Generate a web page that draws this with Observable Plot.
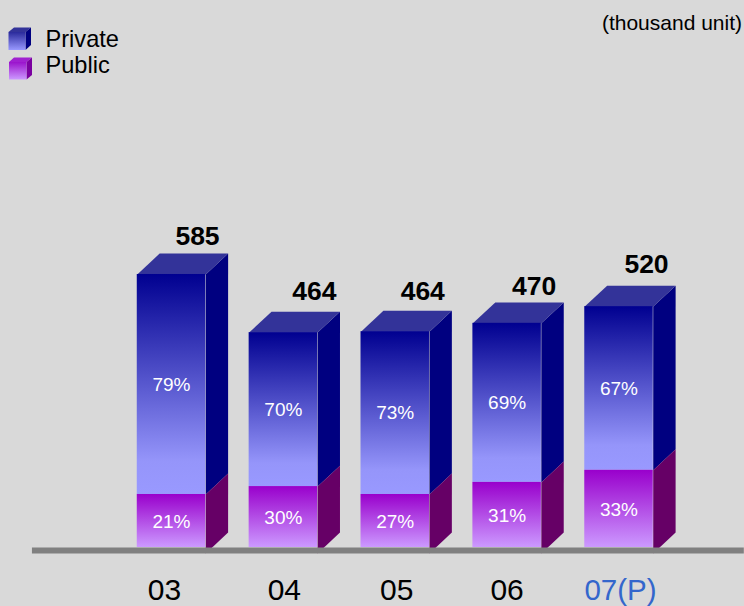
<!DOCTYPE html>
<html>
<head>
<meta charset="utf-8">
<script src="https://cdn.jsdelivr.net/npm/d3@7"></script>
<script src="https://cdn.jsdelivr.net/npm/@observablehq/plot@0.6"></script>
<style>
  html, body { margin: 0; padding: 0; background: #d9d9d9; }
  body { width: 744px; height: 606px; position: relative; overflow: hidden;
         font-family: "Liberation Sans", Arial, sans-serif; }
  #chart svg { display: block; background: transparent; }
  #unit { position: absolute; top: 11px; right: 2px; font-size: 21px; line-height: 24px; color: #000; white-space: nowrap; }
  .lg { position: absolute; left: 45.5px; font-size: 23.6px; line-height: 26px; color: #000; }
  #cubes { position: absolute; left: 0; top: 0; }
</style>
</head>
<body>
<div id="chart"></div>
<svg id="cubes" width="40" height="90">
  <defs>
    <linearGradient id="lgPriv" x1="0" y1="0" x2="0" y2="1">
      <stop offset="0" stop-color="#2a2a9c"/><stop offset="1" stop-color="#9999ff"/>
    </linearGradient>
    <linearGradient id="lgPub" x1="0" y1="0" x2="0" y2="1">
      <stop offset="0" stop-color="#9a12cc"/><stop offset="1" stop-color="#cc99ff"/>
    </linearGradient>
  </defs>
  <polygon points="8.5,32 14,27.5 31,27.5 25.5,32" fill="#333399"/>
  <polygon points="25.5,32 31,27.5 31,45 25.5,50" fill="#000080"/>
  <rect x="8.5" y="32" width="17" height="18" fill="url(#lgPriv)"/>
  <polygon points="9,62 14,57.5 32,57.5 26.5,62" fill="#a020d0"/>
  <polygon points="26.5,62 32,57.5 32,75 26.5,79.5" fill="#7a00a0"/>
  <rect x="9" y="62" width="17.5" height="17.5" fill="url(#lgPub)"/>
</svg>
<div class="lg" style="top:26px">Private</div>
<div class="lg" style="top:52px">Public</div>
<div id="unit">(thousand unit)</div>
<script>
const years = ["03", "04", "05", "06", "07(P)"];
const totalLabels = [585, 464, 464, 470, 520];
const barHeights = [587, 462, 464, 482, 518];
const publicHeights = [114, 131, 114, 140, 166];
const privateShare = ["79%", "70%", "73%", "69%", "67%"];
const publicShare = ["21%", "30%", "27%", "31%", "33%"];

const halfW = 0.306, depthX = 0.2, depthY = 45, baseDrop = -13;

const bars = years.map((year, i) => ({
  year, i,
  label: String(totalLabels[i]),
  top: barHeights[i],
  mid: publicHeights[i],
  privateShare: privateShare[i],
  publicShare: publicShare[i]
}));

const poly = (fn) => bars.flatMap((b) => fn(b).map(([x, y]) => ({x, y, z: b.year})));
const sidePrivate = poly((b) => [
  [b.i + halfW, b.top], [b.i + halfW + depthX, b.top + depthY],
  [b.i + halfW + depthX, b.mid + depthY], [b.i + halfW, b.mid]
]);
const sidePublic = poly((b) => [
  [b.i + halfW, b.mid], [b.i + halfW + depthX, b.mid + depthY],
  [b.i + halfW + depthX, baseDrop + depthY], [b.i + halfW, baseDrop]
]);
const topFace = poly((b) => [
  [b.i - halfW, b.top], [b.i + halfW, b.top],
  [b.i + halfW + depthX, b.top + depthY], [b.i - halfW + depthX, b.top + depthY]
]);

function gradient(id, stops) {
  const g = d3.create("svg:linearGradient").attr("id", id)
    .attr("x1", 0).attr("y1", 0).attr("x2", 0).attr("y2", 1);
  stops.forEach(([o, c]) => g.append("stop").attr("offset", o).attr("stop-color", c));
  return g.node();
}
const defs = () => {
  const d = d3.create("svg:defs");
  d.node().append(gradient("gPriv", [[0, "#000090"], [0.85, "#9595fa"], [1, "#9999ff"]]));
  d.node().append(gradient("gPub", [[0, "#9900cc"], [1, "#cc99ff"]]));
  return d.node();
};

const face = (data, fill) => Plot.line(data, {x: "x", y: "y", z: "z", fill, stroke: "none"});
const ff = '"Liberation Sans", Arial, sans-serif';

// Small pixel nudges of the hand-placed labels in the original chart.
const labelNudge = [[26, -38], [31, -41], [27.5, -40], [27, -37], [27.5, -42]];
const tickNudge = [-7, 1, 1.5, 0, 1.5];

const chart = Plot.plot({
  width: 744, height: 606,
  marginLeft: 0, marginRight: 0, marginTop: 0, marginBottom: 0,
  style: {background: "transparent", fontFamily: ff},
  x: {type: "linear", domain: [0, 4], range: [171, 618.5], axis: null},
  y: {type: "linear", domain: [0, 500], range: [547, 547 - 500 / 2.15], axis: null},
  marks: [
    defs,
    face(sidePrivate, "#000080"),
    face(sidePublic, "#660066"),
    face(topFace, "#333399"),
    Plot.rect(bars, {x1: (d) => d.i - halfW, x2: (d) => d.i + halfW, y1: "mid", y2: "top", fill: "url(#gPriv)"}),
    Plot.rect(bars, {x1: (d) => d.i - halfW, x2: (d) => d.i + halfW, y1: 0, y2: "mid", fill: "url(#gPub)"}),
    Plot.ruleY([baseDrop / 2], {x1: -1.243, x2: 5.12, stroke: "#808080", strokeWidth: 6}),
    Plot.text(bars, {x: "i", y: (d) => (d.top + d.mid) / 2, text: "privateShare", fill: "#fff", fontSize: 19, dy: 0}),
    Plot.text(bars, {x: "i", y: (d) => d.mid / 2, text: "publicShare", fill: "#fff", fontSize: 19, dy: 1}),
    ...bars.map((b, k) => Plot.text([b], {x: "i", y: "top", text: "label", fill: "#000", fontSize: 26.5, fontWeight: "bold", dx: labelNudge[k][0], dy: labelNudge[k][1]})),
    ...bars.map((b, k) => Plot.text([b], {x: "i", y: 0, text: "year", fill: b.year.includes("P") ? "#3366cc" : "#000", fontSize: b.year.includes("P") ? 29.5 : 30, dx: tickNudge[k], dy: 43}))
  ]
});
document.getElementById("chart").append(chart);
</script>
</body>
</html>
